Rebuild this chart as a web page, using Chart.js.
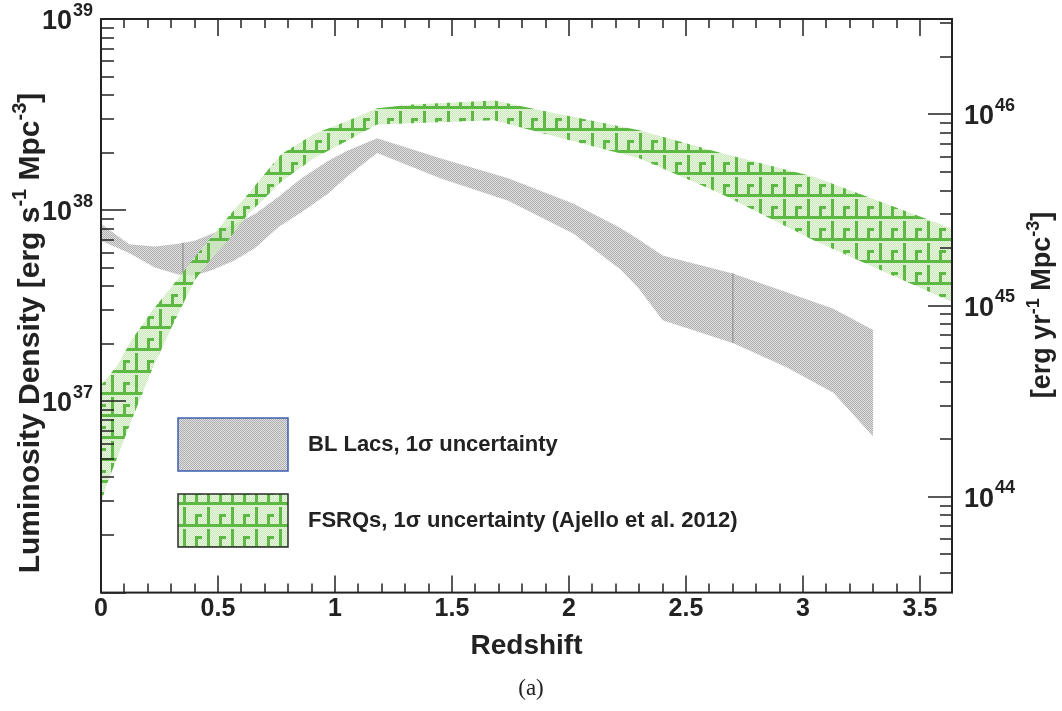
<!DOCTYPE html>
<html>
<head>
<meta charset="utf-8">
<script src="https://cdn.jsdelivr.net/npm/chart.js@4.4.0/dist/chart.umd.min.js"></script>
<style>
  html, body { margin: 0; padding: 0; background: #fff; }
  canvas { display: block; }
</style>
</head>
<body>
<canvas id="lumChart" width="1062" height="711"></canvas>
<script>
// BL Lacs band (grey), edges
const blZ    = [0, 0.12, 0.23, 0.33, 0.40, 0.47, 0.57, 0.66, 0.76, 0.86, 0.97, 1.05, 1.18, 1.45, 1.74, 2.02, 2.22, 2.30, 2.40, 2.70, 2.93, 3.13, 3.30];
const blHigh = [8.49e37, 6.64e37, 6.45e37, 6.68e37, 6.93e37, 7.49e37, 8.45e37, 9.58e37, 1.18e38, 1.48e38, 1.81e38, 2.04e38, 2.38e38, 1.87e38, 1.47e38, 1.08e38, 8.08e37, 7.01e37, 5.79e37, 4.67e37, 3.72e37, 3.05e37, 2.36e37];
const blLow  = [6.93e37, 5.97e37, 5.01e37, 4.61e37, 4.56e37, 4.84e37, 5.46e37, 6.37e37, 8.20e37, 9.82e37, 1.22e38, 1.49e38, 1.99e38, 1.47e38, 1.12e38, 7.54e37, 4.90e37, 3.87e37, 2.66e37, 2.02e37, 1.51e37, 1.11e37, 6.55e36];

// FSRQs band (green, Ajello et al. 2012)
const fsrqZ    = [0, 0.02, 0.07, 0.13, 0.22, 0.30, 0.40, 0.47, 0.54, 0.63, 0.70, 0.77, 0.91, 1.05, 1.18, 1.33, 1.68, 1.90, 2.30, 2.65, 3.05, 3.64];
const fsrqHigh = [1.22e37, 1.30e37, 1.54e37, 2.09e37, 3.00e37, 3.95e37, 5.65e37, 7.18e37, 9.12e37, 1.22e38, 1.55e38, 1.96e38, 2.50e38, 2.92e38, 3.41e38, 3.57e38, 3.75e38, 3.29e38, 2.62e38, 1.99e38, 1.49e38, 8.00e37];
const fsrqLow  = [2.90e36, 3.56e36, 5.10e36, 7.94e36, 1.48e37, 2.42e37, 4.29e37, 5.58e37, 6.89e37, 9.58e37, 1.16e38, 1.41e38, 1.87e38, 2.30e38, 2.81e38, 2.85e38, 2.95e38, 2.50e38, 1.87e38, 1.22e38, 6.93e37, 3.30e37];

// thin seams visible inside the grey band
const seamZ    = [0.35, 2.70];
const seamHigh = [6.75e37, 4.67e37];
const seamLow  = [4.60e37, 2.02e37];

// axes
const xMax = 3.637;
const yMin = 1e36, yMax = 1e39;
const secPerYear = 3.156e7;
const xTickValues = [0, 0.5, 1, 1.5, 2, 2.5, 3, 3.5];
const xTickLabels = ['0', '0.5', '1', '1.5', '2', '2.5', '3', '3.5'];
const yDecades = [37, 38, 39];
const y2Decades = [44, 45, 46];
// titles as [text, superscript?] runs
const yTitle = [['Luminosity Density [erg s', 0], ['-1', 1], [' Mpc', 0], ['-3', 1], [']', 0]];
const y2Title = [['[erg yr', 0], ['-1', 1], [' Mpc', 0], ['-3', 1], [']', 0]];
const blLabel = 'BL Lacs, 1σ uncertainty';
const fsrqLabel = 'FSRQs, 1σ uncertainty (Ajello et al. 2012)';

const sans = '"Liberation Sans", Arial, sans-serif';
const ink = '#222';

// fill patterns
function makeTile(w, h, paint) {
  const c = document.createElement('canvas');
  c.width = w; c.height = h;
  paint(c.getContext('2d'));
  return c;
}
const scratch = document.createElement('canvas').getContext('2d');

const grayPattern = scratch.createPattern(makeTile(2, 2, g => {
  g.fillStyle = '#b0b0b0';
  g.fillRect(0, 0, 1, 1); g.fillRect(1, 1, 1, 1);
  g.fillStyle = '#dedede';
  g.fillRect(1, 0, 1, 1); g.fillRect(0, 1, 1, 1);
}), 'repeat');

const greenPattern = scratch.createPattern(makeTile(24, 22, g => {
  for (let y = 0; y < 22; y++) {
    for (let x = 0; x < 24; x++) {
      g.fillStyle = (x + y) % 2 ? 'rgba(190,228,172,0.85)' : 'rgba(228,244,219,0.75)';
      g.fillRect(x, y, 1, 1);
    }
  }
  g.fillStyle = '#5db943';
  g.fillRect(0, 18, 24, 3);   // run along the bottom
  g.fillRect(15, 1, 3, 17);   // tall stem
  g.fillRect(3, 8, 3, 10);    // short stem
  g.fillRect(3, 8, 7, 3);     // its cap
}), 'repeat');

const toPoints = (zs, vs) => zs.map((z, i) => ({ x: z, y: vs[i] }));
const band = { pointRadius: 0, borderWidth: 0, borderColor: 'rgba(0,0,0,0)', tension: 0 };

// "10" with a raised exponent
function drawPower(ctx, exp, x, y, alignRight) {
  ctx.font = 'bold 27px ' + sans;
  const wb = ctx.measureText('10').width;
  ctx.font = 'bold 18px ' + sans;
  const we = ctx.measureText(String(exp)).width;
  const x0 = alignRight ? x - wb - we : x;
  ctx.font = 'bold 27px ' + sans;
  ctx.fillText('10', x0, y + 10);
  ctx.font = 'bold 18px ' + sans;
  ctx.fillText(String(exp), x0 + wb + 1, y - 3.5);
}

// rotated title with superscript runs, baseline at x, centred on y
function drawRotTitle(ctx, runs, x, y, size, supSize) {
  const fontFor = s => 'bold ' + (s ? supSize : size) + 'px ' + sans;
  let total = 0;
  runs.forEach(([t, s]) => { ctx.font = fontFor(s); total += ctx.measureText(t).width; });
  ctx.save();
  ctx.translate(x, y);
  ctx.rotate(-Math.PI / 2);
  let u = -total / 2;
  runs.forEach(([t, s]) => {
    ctx.font = fontFor(s);
    ctx.fillText(t, u, s ? -size * 0.42 : 0);
    u += ctx.measureText(t).width;
  });
  ctx.restore();
}

// frame, inward tick marks and decade labels
const frameTicks = {
  id: 'frameTicks',
  afterDraw(chart) {
    const { ctx, chartArea: a, scales } = chart;
    ctx.save();
    ctx.strokeStyle = ink;
    ctx.lineWidth = 1.5;
    ctx.beginPath();
    scales.x.ticks.forEach(t => {
      const tenths = t.value * 10;
      if (Math.abs(tenths - Math.round(tenths)) > 1e-6) return;
      const len = Math.round(tenths) % 5 === 0 ? 17 : 9;
      const px = Math.round(scales.x.getPixelForValue(t.value));
      ctx.moveTo(px, a.bottom); ctx.lineTo(px, a.bottom - len);
      ctx.moveTo(px, a.top); ctx.lineTo(px, a.top + len);
    });
    const logTicks = (scale, edge, dir, majLen, minLen) => {
      scale.ticks.forEach(t => {
        const e = Math.floor(Math.log10(t.value) + 1e-9);
        const m = t.value / Math.pow(10, e);
        if (Math.abs(m - Math.round(m)) > 1e-6) return;
        const major = Math.round(m) === 1 || Math.round(m) === 10;
        const py = Math.round(scale.getPixelForValue(t.value));
        ctx.moveTo(edge, py); ctx.lineTo(edge + dir * (major ? majLen : minLen), py);
      });
    };
    logTicks(scales.y, a.left, 1, 25, 13);
    logTicks(scales.y2, a.right, -1, 24, 12);
    ctx.stroke();
    ctx.lineWidth = 2;
    ctx.strokeRect(a.left, a.top, a.right - a.left, a.bottom - a.top);

    ctx.fillStyle = ink;
    ctx.textBaseline = 'alphabetic';
    ctx.textAlign = 'left';
    yDecades.forEach(d => drawPower(ctx, d, a.left - 9, scales.y.getPixelForValue(Math.pow(10, d)), true));
    y2Decades.forEach(d => drawPower(ctx, d, a.right + 12, scales.y2.getPixelForValue(Math.pow(10, d)), false));

    drawRotTitle(ctx, yTitle, 39, 333, 30, 20);
    drawRotTitle(ctx, y2Title, 1050, 305, 27, 18);
    ctx.restore();
  }
};

// big legend boxes inside the frame
const bandLegend = {
  id: 'bandLegend',
  afterDraw(chart) {
    const { ctx } = chart;
    const ds = chart.data.datasets;
    const items = [
      { d: ds[4], top: 418, edge: '#3d5db0' },
      { d: ds[0], top: 494, edge: '#2b2b2b' }
    ];
    ctx.save();
    items.forEach(it => {
      ctx.fillStyle = '#fff';
      ctx.fillRect(178, it.top, 110, 53);
      ctx.fillStyle = it.d.backgroundColor;
      ctx.fillRect(178, it.top, 110, 53);
      ctx.lineWidth = 1.5;
      ctx.strokeStyle = it.edge;
      ctx.strokeRect(178, it.top, 110, 53);
      ctx.fillStyle = ink;
      ctx.font = 'bold 22px ' + sans;
      ctx.textBaseline = 'middle';
      ctx.fillText(it.d.label, 308, it.top + 27);
    });
    ctx.restore();
  }
};

const noPad = s => { s.paddingTop = 0; s.paddingBottom = 0; };

new Chart(document.getElementById('lumChart'), {
  type: 'line',
  data: {
    datasets: [
      { label: fsrqLabel, data: toPoints(fsrqZ, fsrqHigh), fill: '+1', backgroundColor: greenPattern, ...band },
      { label: 'fsrq low', data: toPoints(fsrqZ, fsrqLow), fill: false, ...band },
      { label: 'seam 1', data: [{ x: seamZ[0], y: seamHigh[0] }, { x: seamZ[0], y: seamLow[0] }], fill: false, pointRadius: 0, borderColor: '#a0a0a0', borderWidth: 1 },
      { label: 'seam 2', data: [{ x: seamZ[1], y: seamHigh[1] }, { x: seamZ[1], y: seamLow[1] }], fill: false, pointRadius: 0, borderColor: '#a0a0a0', borderWidth: 1 },
      { label: blLabel, data: toPoints(blZ, blHigh), fill: '+1', backgroundColor: grayPattern, ...band },
      { label: 'bl low', data: toPoints(blZ, blLow), fill: false, ...band }
    ]
  },
  options: {
    responsive: false,
    animation: false,
    devicePixelRatio: 1,
    events: [],
    layout: { padding: { top: 19, left: 0, right: 0, bottom: 0 } },
    plugins: {
      legend: { display: false },
      tooltip: { enabled: false },
      title: {
        display: true, position: 'bottom', text: '(a)', color: ink,
        font: { family: '"Liberation Serif", serif', size: 23, weight: 'normal' },
        padding: { top: 4, bottom: 8 }
      }
    },
    scales: {
      x: {
        type: 'linear', min: 0, max: xMax,
        grid: { display: false, drawTicks: false },
        border: { display: false },
        ticks: {
          stepSize: 0.1, autoSkip: false, maxRotation: 0, minRotation: 0, padding: 2, color: ink,
          font: { family: sans, size: 25, weight: 'bold' },
          callback: v => {
            const i = xTickValues.findIndex(t => Math.abs(t - v) < 1e-6);
            return i < 0 ? '' : xTickLabels[i];
          }
        },
        title: {
          display: true, text: 'Redshift', color: ink,
          font: { family: sans, size: 28, weight: 'bold' },
          padding: { top: 0, bottom: 8 }
        },
        afterFit: s => { s.height = 78.8; }
      },
      y: {
        type: 'logarithmic', position: 'left', min: yMin, max: yMax,
        grid: { display: false, drawTicks: false },
        border: { display: false },
        ticks: { display: false, autoSkip: false },
        afterFit: s => { s.width = 101; noPad(s); }
      },
      y2: {
        type: 'logarithmic', position: 'right', min: yMin * secPerYear, max: yMax * secPerYear,
        grid: { display: false, drawTicks: false },
        border: { display: false },
        ticks: { display: false, autoSkip: false },
        afterFit: s => { s.width = 110; noPad(s); }
      }
    }
  },
  plugins: [frameTicks, bandLegend]
});
</script>
</body>
</html>
